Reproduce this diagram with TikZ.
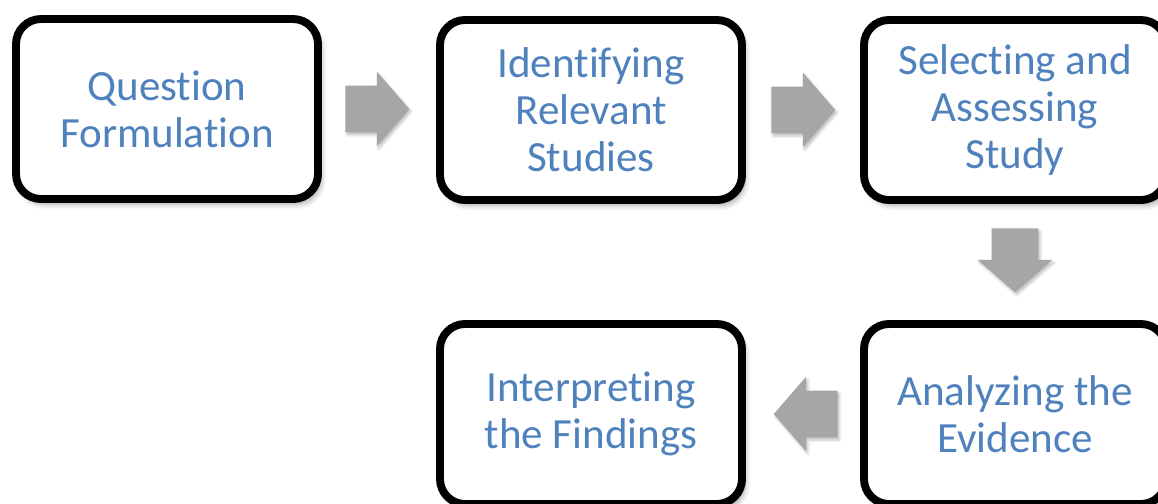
\documentclass[tikz,border=0pt]{standalone}
\usepackage{fontspec}
\setmainfont{Carlito}[Ligatures=NoCommon]
\usetikzlibrary{shapes.arrows, calc, shadows.blur}
\definecolor{steptext}{RGB}{79,129,189}
\definecolor{flowgray}{RGB}{166,166,166}
\tikzset{
  stepbox/.style={rectangle, rounded corners=0.5cm, draw=black, line width=4.5pt, fill=white,
    minimum width=6.04cm, minimum height=3.6cm, align=center, text=steptext,
    font=\fontsize{24.5}{26.7}\selectfont,
    blur shadow={shadow xshift=2pt, shadow yshift=-3pt, shadow blur radius=3pt, shadow opacity=35}},
  flowarrow/.style={single arrow, fill=flowgray, draw=none, inner xsep=0pt, inner ysep=0.46cm,
    minimum height=1.28cm, single arrow head extend=0.28cm,
    single arrow tip angle=98, anchor=tail,
    blur shadow={shadow xshift=1pt, shadow yshift=-1.5pt, shadow blur radius=1.5pt, shadow opacity=25}}
}
\begin{document}
\begin{tikzpicture}
  \useasboundingbox (0,0) rectangle (23.16,-10.06);

  \node[stepbox] (question) at (3.34,-2.18) {Question\\Formulation};
  \node[stepbox] (identify) at (11.82,-2.2) {Identifying\\Relevant\\Studies};
  \node[stepbox] (select) at (20.3,-2.2) {Selecting and\\Assessing\\Study};
  \node[stepbox] (analyze) at (20.3,-8.28) {Analyzing the\\Evidence};
  \node[stepbox] (interpret) at (11.82,-8.28) {Interpreting\\the Findings};

  % block arrows between the steps
  \node[flowarrow] (a1) at ($(question.east)+(0.46,0)$) {};
  \node[flowarrow] (a2) at ($(identify.east)+(0.5,0)$) {};
  \node[flowarrow, rotate=-90] (a3) at ($(select.south)+(0,-0.48)$) {};
  \node[flowarrow, rotate=180] (a4) at ($(analyze.west)+(-0.44,0)$) {};
\end{tikzpicture}
\end{document}
